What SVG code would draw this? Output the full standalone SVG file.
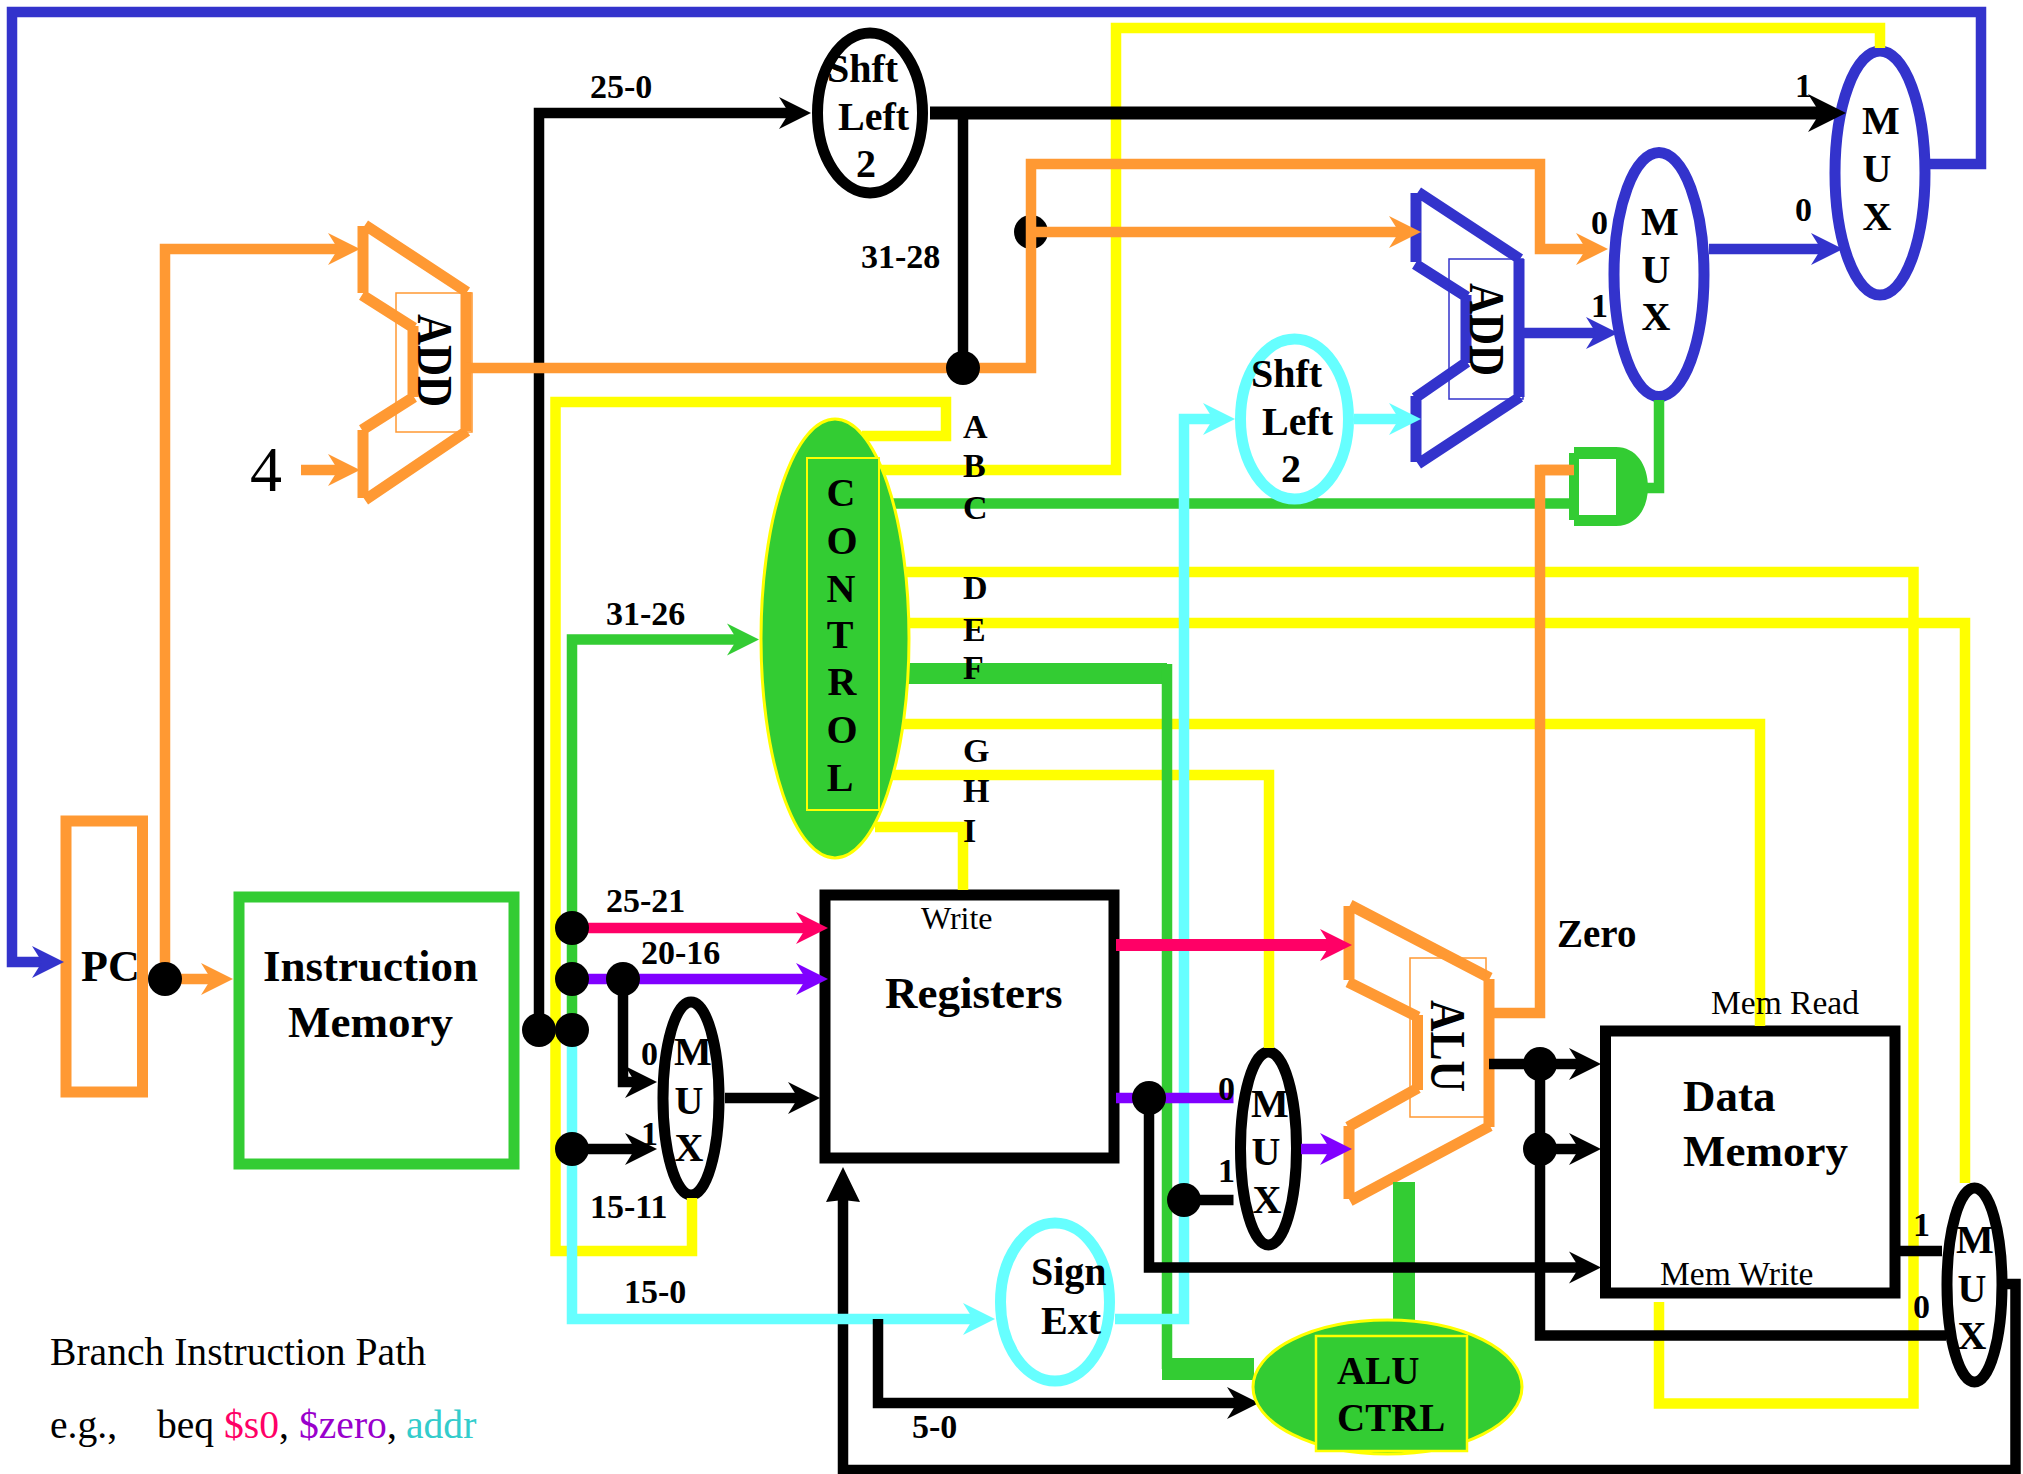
<svg xmlns="http://www.w3.org/2000/svg" width="2023" height="1474" viewBox="0 0 2023 1474">
<style>
text{font-family:"Liberation Serif","Times New Roman",serif;fill:#000}
.b{font-weight:bold}
.s34{font-size:34px}.s40{font-size:40px}.s45{font-size:45px}
.m{text-anchor:middle}
.w{fill:none;stroke-linejoin:miter;stroke-linecap:butt;stroke-width:10.5}
.or{stroke:#ff9933}.bl{stroke:#3333cc}.gr{stroke:#33cc33}.ye{stroke:#ffff00}.cy{stroke:#66ffff}.pk{stroke:#ff0066}.pu{stroke:#8000ff}.bk{stroke:#000}
.node{fill:none;stroke-width:11}
.thin{fill:none;stroke-width:1.5}
.dot{fill:#000}
</style>
<defs>
<marker id="ao" markerUnits="userSpaceOnUse" markerWidth="40" markerHeight="40" refX="10" refY="20" orient="auto" overflow="visible"><path d="M0,4 L32,20 L0,36 L10,20Z" fill="#ff9933"/></marker>
<marker id="ak" markerUnits="userSpaceOnUse" markerWidth="40" markerHeight="40" refX="10" refY="20" orient="auto" overflow="visible"><path d="M0,4 L32,20 L0,36 L10,20Z" fill="#000"/></marker>
<marker id="aK" markerUnits="userSpaceOnUse" markerWidth="48" markerHeight="48" refX="12" refY="24" orient="auto" overflow="visible"><path d="M0,5 L38,24 L0,43 L12,24Z" fill="#000"/></marker>
<marker id="ab" markerUnits="userSpaceOnUse" markerWidth="40" markerHeight="40" refX="10" refY="20" orient="auto" overflow="visible"><path d="M0,4 L32,20 L0,36 L10,20Z" fill="#3333cc"/></marker>
<marker id="ag" markerUnits="userSpaceOnUse" markerWidth="40" markerHeight="40" refX="10" refY="20" orient="auto" overflow="visible"><path d="M0,4 L32,20 L0,36 L10,20Z" fill="#33cc33"/></marker>
<marker id="ac" markerUnits="userSpaceOnUse" markerWidth="40" markerHeight="40" refX="10" refY="20" orient="auto" overflow="visible"><path d="M0,4 L32,20 L0,36 L10,20Z" fill="#66ffff"/></marker>
<marker id="ap" markerUnits="userSpaceOnUse" markerWidth="40" markerHeight="40" refX="10" refY="20" orient="auto" overflow="visible"><path d="M0,4 L32,20 L0,36 L10,20Z" fill="#ff0066"/></marker>
<marker id="au" markerUnits="userSpaceOnUse" markerWidth="40" markerHeight="40" refX="10" refY="20" orient="auto" overflow="visible"><path d="M0,4 L32,20 L0,36 L10,20Z" fill="#8000ff"/></marker>
</defs>
<rect width="2023" height="1474" fill="#fff"/>
<g id="pc"><rect class="node or" x="66" y="821" width="76.5" height="271"/><text class="b" style="font-size:44px" x="81" y="981">PC</text></g>
<g id="instruction-memory"><rect class="node gr" x="239" y="897" width="275" height="267"/><text class="b s45" x="263" y="981">Instruction</text><text class="b s45" x="288" y="1037">Memory</text></g>
<g id="registers"><rect class="node bk" x="825" y="895" width="289" height="263"/><text style="font-size:32px" x="921" y="929">Write</text><text class="b s45" x="885" y="1008">Registers</text></g>
<g id="data-memory"><rect class="node bk" x="1605.5" y="1031" width="289.5" height="262"/><text class="b s45" x="1683" y="1111">Data</text><text class="b s45" x="1683" y="1166">Memory</text></g>
<g id="add-pc"><path class="node or" d="M363,226 V293 M365,225 L467,292 M466,292 V431 M467,431 L365,500 M363,430 V498 M362,295 L414,328 M413,326 V397 M414,397 L362,430"/><rect class="thin or" x="396" y="293" width="76" height="139"/><text class="b" style="font-size:43px" transform="translate(418,314) rotate(90) scale(1,1.18)">ADD</text></g>
<g id="add-branch"><path class="node bl" d="M1416,193 V262 M1418,192 L1520,259 M1519,259 V397 M1520,397 L1418,464 M1416,396 V462 M1415,264 L1467,297 M1466,295 V363 M1467,362 L1415,398"/><rect class="thin bl" x="1449" y="259" width="74" height="140"/><text class="b" style="font-size:43px" transform="translate(1470,283) rotate(90) scale(1,1.18)">ADD</text></g>
<g id="alu"><path class="node or" d="M1349,906 V980 M1350,905 L1490,978 M1489,979 V1127 M1490,1126 L1350,1201 M1349,1126 V1199 M1348,982 L1418,1017 M1417.5,1015 V1090 M1418,1088 L1348,1127"/><rect class="thin or" x="1410" y="958" width="76" height="159"/><text class="b" style="font-size:43.6px" transform="translate(1430.5,1000) rotate(90) scale(1,1.18)">ALU</text></g>
<g id="shift-left-top"><ellipse class="node bk" cx="870" cy="113" rx="52.5" ry="80"/><text class="b s40" x="827" y="82">Shft</text><text class="b s40" x="838" y="130">Left</text><text class="b s40" x="856" y="177">2</text></g>
<g id="sign-ext"><ellipse class="node cy" cx="1055" cy="1302" rx="54.5" ry="79"/><text class="b s40" x="1031" y="1285">Sign</text><text class="b s40" x="1041" y="1334">Ext</text></g>
<g id="mux-jump"><ellipse class="node bl" cx="1880" cy="173" rx="45" ry="122"/><text class="b s40 m" x="1881" y="134">M</text><text class="b s40 m" x="1877" y="182">U</text><text class="b s40 m" x="1877" y="230">X</text></g>
<g id="mux-branch"><ellipse class="node bl" cx="1659" cy="274.5" rx="45" ry="122"/><text class="b s40 m" x="1660" y="235">M</text><text class="b s40 m" x="1656" y="283">U</text><text class="b s40 m" x="1656" y="330">X</text></g>
<g id="mux-reg"><ellipse class="node bk" cx="691" cy="1098.5" rx="28" ry="96.5"/><text class="b s40 m" x="693" y="1065">M</text><text class="b s40 m" x="689" y="1114">U</text><text class="b s40 m" x="689" y="1161">X</text></g>
<g id="mux-alu"><ellipse class="node bk" cx="1268.5" cy="1148.5" rx="28" ry="96.5"/><text class="b s40 m" x="1270" y="1117">M</text><text class="b s40 m" x="1266" y="1165">U</text><text class="b s40 m" x="1267" y="1213">X</text></g>
<g id="mux-mem"><ellipse class="node bk" cx="1974.5" cy="1285" rx="27.5" ry="97"/><text class="b s40 m" x="1975" y="1253">M</text><text class="b s40 m" x="1972" y="1302">U</text><text class="b s40 m" x="1972" y="1349">X</text></g>
<g id="junction-branch-add"><circle class="dot" cx="1031" cy="232" r="17"/></g>
<g id="connectors">
<path class="w ye" d="M1880,48 V28 H1116 V470 H875"/>
<path class="w ye" d="M862,436 H946 V402 H555.5 V1251 H692 V1198"/>
<path class="w ye" d="M900,572 H1913.5 V1403.5 H1659 V1302"/>
<path class="w ye" d="M900,623 H1965 V1183"/>
<path class="w ye" d="M895,724 H1760 V1026"/>
<path class="w ye" d="M890,775 H1269 V1048"/>
<path class="w ye" d="M875,827 H963 V890"/>
<path class="w gr" d="M890,503.5 H1575"/>
<path d="M900,673.5 H1167" fill="none" stroke="#33cc33" stroke-width="21"/>
<path class="w gr" d="M1167,664 V1369"/>
<path d="M1162,1369 H1254" fill="none" stroke="#33cc33" stroke-width="22"/>
<path d="M1404,1182 V1322" fill="none" stroke="#33cc33" stroke-width="22"/>
<path class="w gr" d="M1659,400 V488 H1645"/>
<path class="w gr" marker-end="url(#ag)" d="M572,1030 V639.5 H737"/>
<path class="w bk" d="M843,1189 V1470 H2015.5 V1284 H2005"/>
<path d="M843,1200 L826,1202 L843,1167 L860,1202Z" fill="#000"/>
<path class="w cy" marker-end="url(#ac)" d="M572,1030 V1319 H973"/>
<path class="w cy" d="M1115,1319 H1184 V419 H1213" marker-end="url(#ac)"/>
<path class="w cy" marker-end="url(#ac)" d="M1354,419 H1399"/>
<path class="w bk" marker-end="url(#ak)" d="M878,1319 V1403 H1237"/>
<path class="w bl" marker-end="url(#ab)" d="M1930,164 H1981 V12 H12 V962 H42"/>
<path class="w bl" marker-end="url(#ab)" d="M1521,333 H1596"/>
<path class="w bl" marker-end="url(#ab)" d="M1709,249 H1821"/>
<path class="w or" marker-end="url(#ao)" d="M165,979 V249 H338"/>
<path class="w or" marker-end="url(#ao)" d="M301,470 H338"/>
<path class="w or" marker-end="url(#ao)" d="M165,979 H211"/>
<path class="w bk" marker-end="url(#ak)" d="M539,1030 V113 H789"/>
<path class="w or" marker-end="url(#ao)" d="M466,368 H1031 V164 H1540 V249 H1586"/>
<path class="w or" marker-end="url(#ao)" d="M1031,232 H1399"/>
<path class="w or" d="M1492,1013 H1540 V470 H1574"/>
<path d="M930,113 H1820" fill="none" stroke="#000" stroke-width="13" marker-end="url(#aK)"/>
<path class="w bk" d="M963,113 V368"/>
<path class="w pk" marker-end="url(#ap)" d="M572,928 H806"/>
<path class="w pu" marker-end="url(#au)" d="M572,979 H806"/>
<path class="w bk" marker-end="url(#ak)" d="M623,979 V1082 H635"/>
<path class="w bk" marker-end="url(#ak)" d="M572,1149 H635"/>
<path class="w bk" marker-end="url(#ak)" d="M725,1098 H798"/>
<path d="M1116,945 H1330" fill="none" stroke="#ff0066" stroke-width="12" marker-end="url(#ap)"/>
<path class="w pu" d="M1116,1098 H1233.5"/>
<path class="w pu" marker-end="url(#au)" d="M1301,1149 H1330"/>
<path class="w bk" marker-end="url(#ak)" d="M1149,1098 V1267.5 H1579"/>
<path class="w bk" d="M1184,1200 H1233.5"/>
<path class="w bk" marker-end="url(#ak)" d="M1489,1064 H1579"/>
<path class="w bk" marker-end="url(#ak)" d="M1540,1149 H1579"/>
<path class="w bk" d="M1540,1064 V1335.5 H1946"/>
<path class="w bk" d="M1900,1251 H1942"/>
</g>
<g id="shift-left-sign"><ellipse class="node cy" cx="1294.5" cy="419" rx="54" ry="80"/><text class="b s40" x="1251" y="387">Shft</text><text class="b s40" x="1262" y="435">Left</text><text class="b s40" x="1281" y="482">2</text></g>
<g id="and-gate"><path fill="#33cc33" fill-rule="evenodd" d="M1569,453 H1574 V447 H1616 C1636,447 1648,465 1648,487 C1648,509 1636,526 1616,526 H1574 V520 H1569Z M1579,459 V515 H1616 V459Z"/><path class="w or" d="M1540,470 H1574"/></g>
<g id="control"><ellipse cx="835" cy="638.5" rx="74" ry="219.5" fill="#33cc33" stroke="#ffff00" stroke-width="3"/><rect x="807" y="458" width="72" height="352" fill="#33cc33" stroke="#ffff00" stroke-width="2"/><text class="b s40 m" x="841" y="506">C</text><text class="b s40 m" x="842" y="554">O</text><text class="b s40 m" x="841" y="602">N</text><text class="b s40 m" x="840" y="648">T</text><text class="b s40 m" x="842" y="695">R</text><text class="b s40 m" x="842" y="743">O</text><text class="b s40 m" x="840" y="791">L</text></g>
<g id="alu-ctrl"><ellipse cx="1387.5" cy="1387" rx="134.5" ry="67" fill="#33cc33" stroke="#ffff00" stroke-width="3"/><rect x="1316" y="1336" width="151" height="115" fill="#33cc33" stroke="#ffff00" stroke-width="2.5"/><text class="b" style="font-size:39px" x="1337" y="1384">ALU</text><text class="b" style="font-size:39px" x="1337" y="1431">CTRL</text></g>
<g id="junctions">
<circle class="dot" cx="165" cy="979" r="17"/><circle class="dot" cx="539" cy="1030" r="17"/><circle class="dot" cx="572" cy="928" r="17"/><circle class="dot" cx="572" cy="979" r="17"/><circle class="dot" cx="572" cy="1030" r="17"/><circle class="dot" cx="572" cy="1149" r="17"/><circle class="dot" cx="623" cy="979" r="17"/><circle class="dot" cx="963" cy="368" r="17"/><circle class="dot" cx="1149" cy="1098" r="17"/><circle class="dot" cx="1184" cy="1200" r="17"/><circle class="dot" cx="1540" cy="1064" r="17"/><circle class="dot" cx="1540" cy="1149" r="17"/>
</g>
<g id="labels">
<text style="font-size:64px" x="250" y="491">4</text>
<text style="font-size:33.5px" x="1711" y="1014">Mem Read</text><text style="font-size:33.5px" x="1660" y="1285">Mem Write</text>
<text class="b s34" x="590" y="98">25-0</text><text class="b s34" x="861" y="268">31-28</text><text class="b s34" x="606" y="625">31-26</text><text class="b s34" x="606" y="912">25-21</text><text class="b s34" x="641" y="964">20-16</text><text class="b s34" x="590" y="1218">15-11</text><text class="b s34" x="624" y="1303">15-0</text><text class="b s34" x="912" y="1438">5-0</text>
<text class="b s34" x="963" y="438">A</text><text class="b s34" x="963" y="477">B</text><text class="b s34" x="963" y="519">C</text><text class="b s34" x="963" y="599">D</text><text class="b s34" x="963" y="641">E</text><text class="b s34" x="963" y="679">F</text><text class="b s34" x="963" y="762">G</text><text class="b s34" x="963" y="802">H</text><text class="b s34" x="963" y="842">I</text>
<text class="b s34" x="1795" y="97">1</text><text class="b s34" x="1795" y="221">0</text><text class="b s34" x="1591" y="234">0</text><text class="b s34" x="1591" y="317">1</text><text class="b s34" x="641" y="1065">0</text><text class="b s34" x="641" y="1145">1</text><text class="b s34" x="1218" y="1100">0</text><text class="b s34" x="1218" y="1182">1</text><text class="b s34" x="1913" y="1236">1</text><text class="b s34" x="1913" y="1318">0</text>
<text class="b" style="font-size:39px" x="1557" y="947">Zero</text>
<text style="font-size:39.6px" x="50" y="1365">Branch Instruction Path</text>
<text style="font-size:39.6px" y="1438"><tspan x="50">e.g.,</tspan><tspan x="157">beq</tspan><tspan x="224" style="fill:#ff0066">$s0</tspan><tspan style="fill:#000">,</tspan><tspan x="299" style="fill:#9900cc">$zero</tspan><tspan style="fill:#000">,</tspan><tspan x="406" style="fill:#33cccc">addr</tspan></text>
</g>
</svg>
